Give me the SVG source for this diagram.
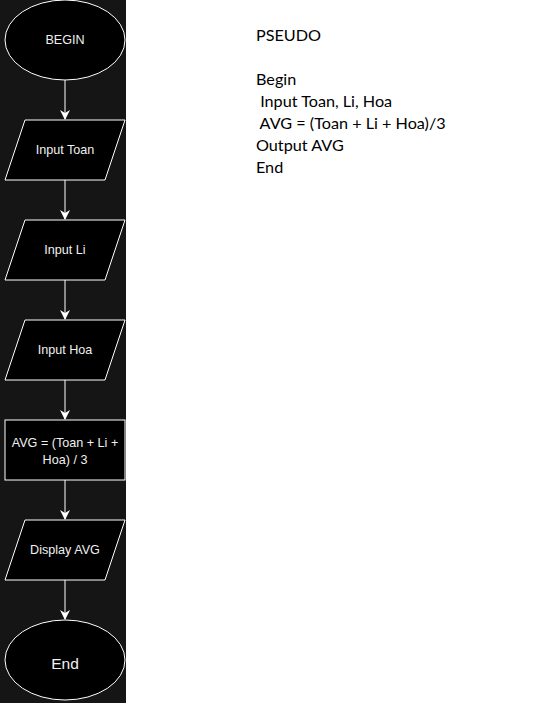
<svg xmlns="http://www.w3.org/2000/svg" width="544" height="703" viewBox="0 0 544 703">
<defs>
<style>
.shape{fill:#000;stroke:#fff;stroke-width:1}
.lbl{font-family:"Liberation Sans",Arial,sans-serif;font-size:12.6px;fill:#f0f0f0;text-anchor:middle}
.conn{stroke:#fff;stroke-width:1;fill:none}
.ps{font-family:"Lato","Liberation Sans",sans-serif;font-size:16.2px;fill:#000}
</style>
<marker id="arr" markerWidth="10" markerHeight="10" refX="9" refY="5" orient="auto" markerUnits="userSpaceOnUse" viewBox="0 0 10 10">
<path d="M0,0 L10,5 L0,10 L3,5 Z" fill="#fff"/>
</marker>
</defs>
<rect x="0" y="0" width="544" height="703" fill="#fff"/>
<rect x="0" y="0" width="126" height="703" fill="#151515"/>
<g id="connectors">
<line class="conn" x1="65" y1="80" x2="65" y2="119" marker-end="url(#arr)"/>
<line class="conn" x1="65" y1="180" x2="65" y2="219" marker-end="url(#arr)"/>
<line class="conn" x1="65" y1="280" x2="65" y2="319" marker-end="url(#arr)"/>
<line class="conn" x1="65" y1="380" x2="65" y2="419" marker-end="url(#arr)"/>
<line class="conn" x1="65" y1="480" x2="65" y2="519" marker-end="url(#arr)"/>
<line class="conn" x1="65" y1="580" x2="65" y2="619" marker-end="url(#arr)"/>
</g>
<g id="begin">
<ellipse class="shape" cx="65" cy="40" rx="60" ry="40"/>
<text class="lbl" x="65" y="44">BEGIN</text>
</g>
<g id="input-toan">
<polygon class="shape" points="25,120 125,120 105,180 5,180"/>
<text class="lbl" x="65" y="154">Input Toan</text>
</g>
<g id="input-li">
<polygon class="shape" points="25,220 125,220 105,280 5,280"/>
<text class="lbl" x="65" y="254">Input Li</text>
</g>
<g id="input-hoa">
<polygon class="shape" points="25,320 125,320 105,380 5,380"/>
<text class="lbl" x="65" y="354">Input Hoa</text>
</g>
<g id="avg">
<rect class="shape" x="5" y="420" width="120" height="60"/>
<text class="lbl" x="65" y="447">AVG = (Toan + Li +</text>
<text class="lbl" x="65" y="464">Hoa) / 3</text>
</g>
<g id="display-avg">
<polygon class="shape" points="25,520 125,520 105,580 5,580"/>
<text class="lbl" x="65" y="554">Display AVG</text>
</g>
<g id="end">
<ellipse class="shape" cx="65" cy="660" rx="60" ry="40"/>
<text class="lbl" x="65" y="669" style="font-size:15.5px">End</text>
</g>
<g id="pseudo">
<text class="ps" x="256" y="41">PSEUDO</text>
<text class="ps" x="256" y="85">Begin</text>
<text class="ps" x="256" y="107" xml:space="preserve"> Input Toan, Li, Hoa</text>
<text class="ps" x="256" y="129" xml:space="preserve"> AVG = (Toan + Li + Hoa)/3</text>
<text class="ps" x="256" y="151">Output AVG</text>
<text class="ps" x="256" y="173">End</text>
</g>
</svg>
